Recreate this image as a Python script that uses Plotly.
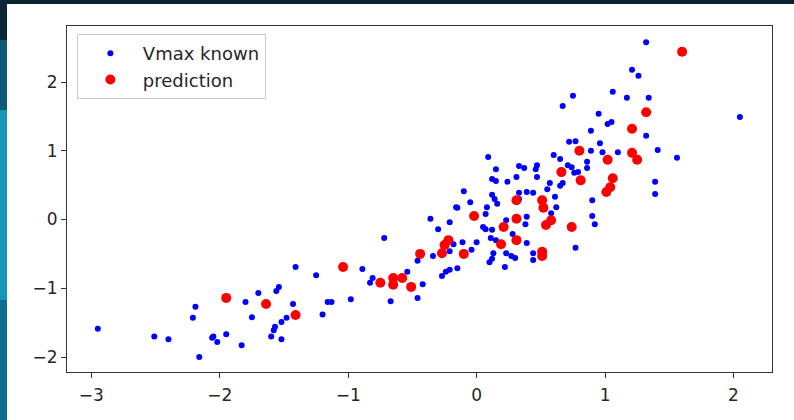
import plotly.graph_objects as go

# Blue "Vmax known" points
known_x = [-2.95, -2.51, -2.40, -2.19, -2.21, -2.16, -2.05, -2.06, -2.02, -1.95,
           -1.83, -1.80, -1.75, -1.70, -1.60, -1.58, -1.57, -1.52, -1.52, -1.48,
           -1.56, -1.54, -1.43, -1.41, -1.25, -1.20, -1.16, -1.13, -0.98, -0.89,
           -0.83, -0.81, -0.72, -0.67, -0.54, -0.46, -0.42, -0.46, -0.36, -0.30,
           -0.21, -0.16, -0.34, -0.27, -0.24, -0.21, -0.15, -0.21, -0.18, -0.11,
           0.00, -0.04, 0.09, 0.15, 0.12, 0.15, 0.24, 0.31, 0.33, 0.37,
           0.47, 0.46, 0.47, 0.60, 0.65, 0.71, 0.74, 0.86, 0.86, 0.76,
           0.79, 0.67, 0.65, -0.10, -0.05, -0.15, 0.12, 0.14, 0.16, 0.08,
           0.07, 0.05, 0.07, 0.12, 0.11, 0.15, 0.13, 0.10, 0.12, 0.22,
           0.23, 0.27, 0.30, 0.23, 0.28, 0.33, 0.39, 0.44, 0.33, 0.39,
           0.38, 0.39, 0.44, 0.44, 0.55, 0.61, 0.62, 0.58, 0.57, 0.77,
           0.90, 0.90, 0.92, 0.75, 1.06, 1.17, 1.34, 0.67, 0.95, 1.02,
           1.05, 0.89, 1.32, 2.05, 0.72, 0.77, 0.96, 1.41, 0.89, 0.98,
           1.10, 1.56, 1.39, 1.39, 1.32, 1.21, 1.26]
known_y = [-1.59, -1.70, -1.74, -1.27, -1.43, -2.00, -1.70, -1.72, -1.78, -1.67,
           -1.83, -1.20, -1.42, -1.07, -1.70, -1.61, -1.56, -1.74, -1.49, -1.43,
           -1.04, -0.98, -1.23, -0.69, -0.81, -1.38, -1.20, -1.20, -1.16, -0.72,
           -0.92, -0.85, -0.27, -1.19, -0.76, -1.14, -0.94, -0.60, 0.01, -0.14,
           -0.04, 0.18, -0.53, -0.82, -0.76, -0.73, -0.71, -0.46, -0.36, -0.33,
           -0.33, -0.44, 0.91, 0.73, 0.59, 0.56, 0.55, 0.62, 0.78, 0.75,
           0.79, 0.73, 0.62, 0.94, 0.88, 0.79, 0.76, 0.84, 0.75, 0.68,
           0.69, 0.53, 0.49, 0.41, 0.25, 0.17, 0.36, 0.30, 0.23, 0.18,
           0.08, -0.11, -0.14, -0.15, -0.27, -0.30, -0.49, -0.62, -0.57, -0.69,
           -0.49, -0.53, -0.56, -0.01, -0.21, 0.39, 0.40, 0.39, 0.30, 0.04,
           -0.07, -0.34, -0.49, -0.59, 0.44, 0.33, 0.18, 0.09, 0.53, -0.41,
           0.28, 0.05, -0.07, 1.80, 1.86, 1.77, 1.77, 1.65, 1.54, 1.39,
           1.42, 1.29, 1.22, 1.49, 1.13, 1.14, 1.11, 1.01, 1.00, 0.98,
           0.98, 0.90, 0.55, 0.37, 2.58, 2.18, 2.09]

# Red "prediction" points
pred_x = [-1.95, -1.64, -1.41, -1.04, -0.75, -0.65, -0.65, -0.58, -0.51, -0.44,
          -0.27, -0.25, -0.22, -0.10, -0.02, 0.21, 0.31, 0.31, 0.19, 0.31,
          0.51, 0.52, 0.58, 0.54, 0.74, 0.51, 0.51, 0.66, 0.81, 0.80,
          1.02, 1.06, 1.04, 1.01, 1.21, 1.25, 1.21, 1.32, 1.60]
pred_y = [-1.14, -1.23, -1.39, -0.69, -0.92, -0.85, -0.95, -0.85, -0.98, -0.50,
          -0.49, -0.37, -0.30, -0.50, 0.05, -0.11, 0.01, 0.28, -0.36, -0.30,
          0.28, 0.17, -0.01, -0.08, -0.11, -0.47, -0.53, 0.69, 0.57, 1.00,
          0.87, 0.60, 0.47, 0.40, 0.97, 0.87, 1.32, 1.56, 2.44]

x_ticks = [-3, -2, -1, 0, 1, 2]
y_ticks = [-2, -1, 0, 1, 2]

FONT = "DejaVu Sans"

fig = go.Figure()
fig.add_trace(go.Scatter(x=known_x, y=known_y, mode="markers", name="Vmax known",
                         marker=dict(color="#0000ff", size=6, line=dict(width=0))))
fig.add_trace(go.Scatter(x=pred_x, y=pred_y, mode="markers", name="prediction",
                         marker=dict(color="#ff0000", size=10, line=dict(width=0))))

axis_common = dict(showgrid=False, zeroline=False, showline=True, linecolor="#333333",
                   linewidth=1, mirror=True, ticks="outside", ticklen=5, tickwidth=1,
                   tickcolor="#333333", tickfont=dict(family=FONT, size=17, color="#262626"))

fig.update_xaxes(range=[-3.19, 2.30], tickvals=x_ticks, ticklabelstandoff=3,
                 ticktext=["\u22123", "\u22122", "\u22121", "0", "1", "2"], **axis_common)
fig.update_yaxes(range=[-2.218, 2.815], tickvals=y_ticks,
                 ticktext=["\u22122", "\u22121", "0", "1", "2"], **axis_common)

PW, PH = 705, 346  # plot area px (for strip placement in paper units)
fig.update_layout(
    width=794, height=420,
    margin=dict(l=67, r=22, t=26, b=48),
    paper_bgcolor="white", plot_bgcolor="white",
    font=dict(family=FONT, color="#262626"),
    showlegend=True,
    legend=dict(x=0.014, y=0.977, xanchor="left", yanchor="top",
                bgcolor="white", bordercolor="#cccccc", borderwidth=1,
                font=dict(family=FONT, size=18, color="#262626"),
                itemwidth=55, tracegroupgap=0),
    shapes=[
        dict(type="rect", xref="paper", yref="paper", x0=-0.2, x1=1.1,
             y0=(346 + 22) / PH, y1=(346 + 40) / PH, fillcolor="#0b2330",
             line=dict(width=0), layer="above"),
        dict(type="rect", xref="paper", yref="paper", x0=-80 / PW, x1=-60 / PW,
             y0=-0.2, y1=(372 - 300) / PH, fillcolor="#0e6f8c", line=dict(width=0), layer="above"),
        dict(type="rect", xref="paper", yref="paper", x0=-80 / PW, x1=-60 / PW,
             y0=(372 - 300) / PH, y1=(372 - 110) / PH, fillcolor="#1396b8", line=dict(width=0), layer="above"),
        dict(type="rect", xref="paper", yref="paper", x0=-80 / PW, x1=-60 / PW,
             y0=(372 - 110) / PH, y1=(372 - 40) / PH, fillcolor="#0d5a78", line=dict(width=0), layer="above"),
        dict(type="rect", xref="paper", yref="paper", x0=-80 / PW, x1=-60 / PW,
             y0=(372 - 40) / PH, y1=1.2, fillcolor="#0b2636", line=dict(width=0), layer="above"),
    ],
)

fig.write_html("out.html", config={"displayModeBar": False},
               post_script="document.body.style.margin='0';")
